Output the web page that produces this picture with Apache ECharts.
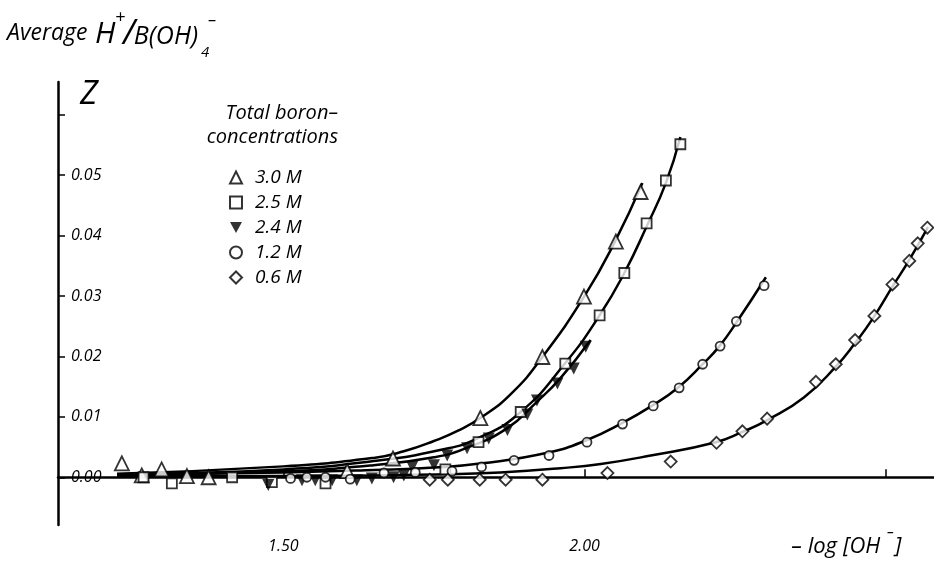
<!DOCTYPE html>
<html>
<head>
<meta charset="utf-8">
<title>Average H+/B(OH)4- versus -log[OH-]</title>
<script src="https://cdn.jsdelivr.net/npm/echarts@6/dist/echarts.min.js"></script>
<style>
  html, body { margin: 0; padding: 0; background: #fff; }
  #chart { width: 934px; height: 561px; }
</style>
</head>
<body>
<div id="chart"></div>
<script>
// measured points, each [-log[OH-], Z]
const b30 = [[1.232, 0.0023], [1.265, 0.0003], [1.298, 0.0013], [1.340, 0.0002], [1.376, 0.0000],
  [1.606, 0.0010], [1.682, 0.0031], [1.827, 0.0098], [1.930, 0.0199], [1.999, 0.0299],
  [2.052, 0.0390], [2.093, 0.0472]];
const b25 = [[1.268, 0.0000], [1.315, -0.0010], [1.415, 0.0000], [1.481, -0.0008], [1.570, -0.0010],
  [1.769, 0.0013], [1.824, 0.0058], [1.894, 0.0108], [1.968, 0.0188], [2.025, 0.0268],
  [2.066, 0.0338], [2.103, 0.0420], [2.135, 0.0491], [2.159, 0.0551]];
const b24 = [[1.475, -0.0013], [1.531, -0.0005], [1.553, -0.0005], [1.581, -0.0005], [1.622, -0.0005],
  [1.647, -0.0002], [1.683, 0.0000], [1.700, 0.0003], [1.714, 0.0017], [1.750, 0.0020],
  [1.772, 0.0036], [1.805, 0.0048], [1.841, 0.0064], [1.872, 0.0078], [1.905, 0.0104],
  [1.921, 0.0127], [1.955, 0.0155], [1.982, 0.0180], [2.002, 0.0216]];
const b12 = [[1.512, -0.0002], [1.539, 0.0000], [1.570, 0.0000], [1.611, -0.0003], [1.667, 0.0007],
  [1.719, 0.0008], [1.780, 0.0010], [1.829, 0.0017], [1.883, 0.0028], [1.941, 0.0036],
  [2.004, 0.0058], [2.063, 0.0088], [2.114, 0.0118], [2.157, 0.0148], [2.196, 0.0187],
  [2.225, 0.0217], [2.252, 0.0258], [2.298, 0.0317]];
const b06 = [[1.743, -0.0004], [1.773, -0.0004], [1.826, -0.0004], [1.869, -0.0004], [1.930, -0.0004],
  [2.038, 0.0007], [2.143, 0.0026], [2.219, 0.0057], [2.262, 0.0076], [2.303, 0.0097],
  [2.384, 0.0158], [2.417, 0.0187], [2.449, 0.0227], [2.481, 0.0267], [2.511, 0.0319],
  [2.539, 0.0358], [2.553, 0.0387], [2.569, 0.0413]];

// hand-drawn fitted curves
const fit30 = [[1.224, 0.0006], [1.500, 0.0018], [1.650, 0.0032], [1.700, 0.0043], [1.750, 0.0060],
  [1.790, 0.0077], [1.830, 0.0100], [1.880, 0.0140], [1.930, 0.0199], [2.000, 0.0300],
  [2.050, 0.0389], [2.096, 0.0487]];
const fit25 = [[1.224, 0.0005], [1.500, 0.0013], [1.650, 0.0027], [1.760, 0.0045], [1.824, 0.0065],
  [1.894, 0.0108], [1.968, 0.0189], [2.025, 0.0268], [2.066, 0.0338], [2.103, 0.0415],
  [2.135, 0.0487], [2.159, 0.0563]];
const fit24 = [[1.224, 0.0003], [1.500, 0.0010], [1.650, 0.0020], [1.750, 0.0033], [1.800, 0.0047],
  [1.870, 0.0080], [1.920, 0.0124], [1.960, 0.0164], [2.010, 0.0227]];
const fit12 = [[1.224, 0.0004], [1.500, 0.0008], [1.650, 0.0012], [1.750, 0.0016], [1.830, 0.0023],
  [1.940, 0.0041], [2.005, 0.0062], [2.063, 0.0090], [2.113, 0.0119], [2.156, 0.0149],
  [2.196, 0.0187], [2.224, 0.0217], [2.252, 0.0256], [2.301, 0.0331]];
const fit06 = [[1.224, 0.0002], [1.500, 0.0002], [1.772, 0.0005], [1.860, 0.0008], [1.960, 0.0015],
  [2.027, 0.0022], [2.110, 0.0036], [2.218, 0.0058], [2.262, 0.0075], [2.304, 0.0095],
  [2.364, 0.0132], [2.417, 0.0183], [2.449, 0.0222], [2.480, 0.0265], [2.512, 0.0317],
  [2.538, 0.0358], [2.570, 0.0414]];

const legendNames = ["3.0 M", "2.5 M", "2.4 M", "1.2 M", "0.6 M"];
const xTicks = [1.5, 2.0, 2.5];
const xLabels = [1.5, 2.0];
const yTicks = [0, 0.01, 0.02, 0.03, 0.04, 0.05, 0.06];
const yLabels = [0, 0.01, 0.02, 0.03, 0.04, 0.05];

const font = "Open Sans";
const chart = echarts.init(document.getElementById("chart"));

function curve(data) {
  return {
    type: "line",
    data: data,
    smooth: 0.5,
    showSymbol: false,
    silent: true,
    z: 2,
    lineStyle: { color: "#000", width: 2.5 }
  };
}

function points(name, data, symbol, size, filled) {
  return {
    name: name,
    type: "scatter",
    data: data,
    symbol: symbol,
    symbolSize: size,
    z: 5,
    itemStyle: {
      color: filled ? "#000" : "#fff",
      borderColor: "#000",
      borderWidth: filled ? 0 : 1.8
    }
  };
}

function txt(x, y, s, size, align) {
  return {
    type: "text",
    x: x,
    y: y,
    style: {
      text: s,
      fontFamily: font,
      fontStyle: "italic",
      fontSize: size,
      fill: "#000",
      align: align || "left",
      verticalAlign: "middle"
    }
  };
}

const option = {
  animation: false,
  grid: { left: 58, right: 0, top: 82, bottom: 36 },
  xAxis: {
    type: "value",
    min: 1.126,
    max: 2.58,
    axisLine: { lineStyle: { color: "#000", width: 2.5 } },
    axisTick: { inside: true, length: 8, customValues: xTicks, lineStyle: { color: "#000", width: 1.5 } },
    axisLabel: {
      customValues: xLabels,
      margin: 13,
      formatter: v => v.toFixed(2),
      fontFamily: font, fontStyle: "italic", fontSize: 16, color: "#000"
    },
    splitLine: { show: false }
  },
  yAxis: {
    type: "value",
    min: -0.0079,
    max: 0.0654,
    axisLine: { show: true, lineStyle: { color: "#000", width: 2.5 } },
    axisTick: { show: true, inside: true, length: 7, customValues: yTicks, lineStyle: { color: "#000", width: 1.5 } },
    axisLabel: {
      inside: true,
      customValues: yLabels,
      margin: 13,
      formatter: v => v.toFixed(2),
      fontFamily: font, fontStyle: "italic", fontSize: 16, color: "#000"
    },
    splitLine: { show: false }
  },
  legend: {
    data: legendNames,
    orient: "vertical",
    left: 224,
    top: 163,
    itemWidth: 12,
    itemHeight: 12,
    itemGap: 6,
    textStyle: {
      fontFamily: font, fontStyle: "italic", fontSize: 19, lineHeight: 14,
      color: "#000", padding: [0, 0, 0, 8]
    }
  },
  graphic: [
    txt(7, 33, "Average", 23),
    txt(95, 34, "H", 30),
    txt(115, 18, "+", 18),
    txt(123, 34, "/", 34),
    txt(198, 37, "B(OH)", 25, "right"),
    txt(201, 53, "4", 15),
    txt(208, 20, "–", 17),
    txt(80, 95, "Z", 33),
    txt(338, 113, "Total boron–", 20, "right"),
    txt(338, 137, "concentrations", 20, "right"),
    txt(837, 547, "– log", 22, "right"),
    txt(843, 547, "[OH", 22),
    txt(887, 533, "–", 14),
    txt(895, 547, "]", 22)
  ],
  series: [
    curve(fit30), curve(fit25), curve(fit24), curve(fit12), curve(fit06),
    points("3.0 M", b30, "triangle", 14, false),
    points("2.5 M", b25, "rect", 10, false),
    points("2.4 M", b24, "path://M0,0L10,0L5,9Z", 12, true),
    points("1.2 M", b12, "circle", 9, false),
    points("0.6 M", b06, "diamond", 12, false)
  ]
};

chart.setOption(option);
</script>
</body>
</html>
